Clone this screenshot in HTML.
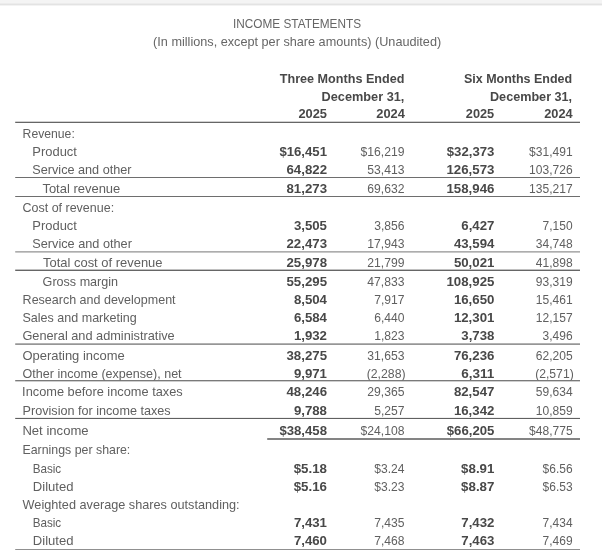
<!DOCTYPE html>
<html lang="en"><head><meta charset="utf-8"><title>Income Statements</title>
<style>html,body{margin:0;padding:0;background:#fff;overflow:hidden}body{width:602px;height:560px}</style>
</head><body>
<svg width="602" height="560" viewBox="0 0 602 560" font-family='"Liberation Sans", sans-serif' style="display:block;filter:blur(0.3px)">
<rect x="0" y="0" width="602" height="4" fill="#f4f4f4"/>
<rect x="0" y="3.5" width="602" height="1.5" fill="#e3e3e3"/>
<rect x="0" y="5" width="602" height="1" fill="#f3f3f3"/>
<text x="233.0" y="28.0" font-size="13" fill="#666" textLength="128.1" lengthAdjust="spacingAndGlyphs">INCOME STATEMENTS</text>
<text x="153.1" y="46.3" font-size="13" fill="#666" textLength="288.1" lengthAdjust="spacingAndGlyphs">(In millions, except per share amounts) (Unaudited)</text>
<text x="404.4" y="83.3" font-size="13.2" fill="#484848" text-anchor="end" font-weight="bold" textLength="124.6" lengthAdjust="spacingAndGlyphs">Three Months Ended</text>
<text x="404.4" y="100.7" font-size="13.2" fill="#484848" text-anchor="end" font-weight="bold" textLength="82.8" lengthAdjust="spacingAndGlyphs">December 31,</text>
<text x="327.0" y="118.2" font-size="13.2" fill="#484848" text-anchor="end" font-weight="bold" textLength="28.6" lengthAdjust="spacingAndGlyphs">2025</text>
<text x="404.9" y="118.2" font-size="13.2" fill="#484848" text-anchor="end" font-weight="bold" textLength="28.6" lengthAdjust="spacingAndGlyphs">2024</text>
<text x="572.1" y="83.3" font-size="13.2" fill="#484848" text-anchor="end" font-weight="bold" textLength="108.1" lengthAdjust="spacingAndGlyphs">Six Months Ended</text>
<text x="572.1" y="100.7" font-size="13.2" fill="#484848" text-anchor="end" font-weight="bold" textLength="82.1" lengthAdjust="spacingAndGlyphs">December 31,</text>
<text x="494.2" y="118.2" font-size="13.2" fill="#484848" text-anchor="end" font-weight="bold" textLength="28.4" lengthAdjust="spacingAndGlyphs">2025</text>
<text x="572.6" y="118.2" font-size="13.2" fill="#484848" text-anchor="end" font-weight="bold" textLength="28.4" lengthAdjust="spacingAndGlyphs">2024</text>
<text x="22.6" y="137.8" font-size="13.0" fill="#606060" textLength="52.2" lengthAdjust="spacingAndGlyphs">Revenue:</text>
<text x="32.3" y="155.8" font-size="13.0" fill="#606060" textLength="44.6" lengthAdjust="spacingAndGlyphs">Product</text>
<text x="327.0" y="155.8" font-size="13.2" fill="#484848" text-anchor="end" font-weight="bold" textLength="47.6" lengthAdjust="spacingAndGlyphs">$16,451</text>
<text x="404.5" y="155.8" font-size="13.2" fill="#606060" text-anchor="end" textLength="44.0" lengthAdjust="spacingAndGlyphs">$16,219</text>
<text x="494.4" y="155.8" font-size="13.2" fill="#484848" text-anchor="end" font-weight="bold" textLength="47.6" lengthAdjust="spacingAndGlyphs">$32,373</text>
<text x="572.6" y="155.8" font-size="13.2" fill="#606060" text-anchor="end" textLength="43.5" lengthAdjust="spacingAndGlyphs">$31,491</text>
<text x="32.3" y="173.9" font-size="13.0" fill="#606060" textLength="99.2" lengthAdjust="spacingAndGlyphs">Service and other</text>
<text x="327.0" y="173.9" font-size="13.2" fill="#484848" text-anchor="end" font-weight="bold" textLength="40.5" lengthAdjust="spacingAndGlyphs">64,822</text>
<text x="404.5" y="173.9" font-size="13.2" fill="#606060" text-anchor="end" textLength="37.2" lengthAdjust="spacingAndGlyphs">53,413</text>
<text x="494.4" y="173.9" font-size="13.2" fill="#484848" text-anchor="end" font-weight="bold" textLength="47.9" lengthAdjust="spacingAndGlyphs">126,573</text>
<text x="572.6" y="173.9" font-size="13.2" fill="#606060" text-anchor="end" textLength="43.5" lengthAdjust="spacingAndGlyphs">103,726</text>
<text x="42.4" y="192.6" font-size="13.0" fill="#606060" textLength="77.9" lengthAdjust="spacingAndGlyphs">Total revenue</text>
<text x="327.0" y="192.6" font-size="13.2" fill="#484848" text-anchor="end" font-weight="bold" textLength="40.5" lengthAdjust="spacingAndGlyphs">81,273</text>
<text x="404.5" y="192.6" font-size="13.2" fill="#606060" text-anchor="end" textLength="37.2" lengthAdjust="spacingAndGlyphs">69,632</text>
<text x="494.4" y="192.6" font-size="13.2" fill="#484848" text-anchor="end" font-weight="bold" textLength="47.9" lengthAdjust="spacingAndGlyphs">158,946</text>
<text x="572.6" y="192.6" font-size="13.2" fill="#606060" text-anchor="end" textLength="43.5" lengthAdjust="spacingAndGlyphs">135,217</text>
<text x="22.5" y="211.6" font-size="13.0" fill="#606060" textLength="91.6" lengthAdjust="spacingAndGlyphs">Cost of revenue:</text>
<text x="32.3" y="229.8" font-size="13.0" fill="#606060" textLength="44.6" lengthAdjust="spacingAndGlyphs">Product</text>
<text x="327.0" y="229.8" font-size="13.2" fill="#484848" text-anchor="end" font-weight="bold" textLength="33.1" lengthAdjust="spacingAndGlyphs">3,505</text>
<text x="404.5" y="229.8" font-size="13.2" fill="#606060" text-anchor="end" textLength="30.3" lengthAdjust="spacingAndGlyphs">3,856</text>
<text x="494.4" y="229.8" font-size="13.2" fill="#484848" text-anchor="end" font-weight="bold" textLength="33.1" lengthAdjust="spacingAndGlyphs">6,427</text>
<text x="572.6" y="229.8" font-size="13.2" fill="#606060" text-anchor="end" textLength="30.0" lengthAdjust="spacingAndGlyphs">7,150</text>
<text x="32.3" y="247.9" font-size="13.0" fill="#606060" textLength="99.6" lengthAdjust="spacingAndGlyphs">Service and other</text>
<text x="327.0" y="247.9" font-size="13.2" fill="#484848" text-anchor="end" font-weight="bold" textLength="40.5" lengthAdjust="spacingAndGlyphs">22,473</text>
<text x="404.5" y="247.9" font-size="13.2" fill="#606060" text-anchor="end" textLength="37.2" lengthAdjust="spacingAndGlyphs">17,943</text>
<text x="494.4" y="247.9" font-size="13.2" fill="#484848" text-anchor="end" font-weight="bold" textLength="40.5" lengthAdjust="spacingAndGlyphs">43,594</text>
<text x="572.6" y="247.9" font-size="13.2" fill="#606060" text-anchor="end" textLength="36.8" lengthAdjust="spacingAndGlyphs">34,748</text>
<text x="43.0" y="266.5" font-size="13.0" fill="#606060" textLength="119.5" lengthAdjust="spacingAndGlyphs">Total cost of revenue</text>
<text x="327.0" y="266.5" font-size="13.2" fill="#484848" text-anchor="end" font-weight="bold" textLength="40.5" lengthAdjust="spacingAndGlyphs">25,978</text>
<text x="404.5" y="266.5" font-size="13.2" fill="#606060" text-anchor="end" textLength="37.2" lengthAdjust="spacingAndGlyphs">21,799</text>
<text x="494.4" y="266.5" font-size="13.2" fill="#484848" text-anchor="end" font-weight="bold" textLength="40.5" lengthAdjust="spacingAndGlyphs">50,021</text>
<text x="572.6" y="266.5" font-size="13.2" fill="#606060" text-anchor="end" textLength="36.8" lengthAdjust="spacingAndGlyphs">41,898</text>
<text x="42.6" y="285.6" font-size="13.0" fill="#606060" textLength="75.5" lengthAdjust="spacingAndGlyphs">Gross margin</text>
<text x="327.0" y="285.6" font-size="13.2" fill="#484848" text-anchor="end" font-weight="bold" textLength="40.5" lengthAdjust="spacingAndGlyphs">55,295</text>
<text x="404.5" y="285.6" font-size="13.2" fill="#606060" text-anchor="end" textLength="37.2" lengthAdjust="spacingAndGlyphs">47,833</text>
<text x="494.4" y="285.6" font-size="13.2" fill="#484848" text-anchor="end" font-weight="bold" textLength="47.9" lengthAdjust="spacingAndGlyphs">108,925</text>
<text x="572.6" y="285.6" font-size="13.2" fill="#606060" text-anchor="end" textLength="36.8" lengthAdjust="spacingAndGlyphs">93,319</text>
<text x="22.6" y="304.2" font-size="13.0" fill="#606060" textLength="153.0" lengthAdjust="spacingAndGlyphs">Research and development</text>
<text x="327.0" y="304.2" font-size="13.2" fill="#484848" text-anchor="end" font-weight="bold" textLength="33.1" lengthAdjust="spacingAndGlyphs">8,504</text>
<text x="404.5" y="304.2" font-size="13.2" fill="#606060" text-anchor="end" textLength="30.3" lengthAdjust="spacingAndGlyphs">7,917</text>
<text x="494.4" y="304.2" font-size="13.2" fill="#484848" text-anchor="end" font-weight="bold" textLength="40.5" lengthAdjust="spacingAndGlyphs">16,650</text>
<text x="572.6" y="304.2" font-size="13.2" fill="#606060" text-anchor="end" textLength="36.8" lengthAdjust="spacingAndGlyphs">15,461</text>
<text x="22.5" y="321.7" font-size="13.0" fill="#606060" textLength="114.2" lengthAdjust="spacingAndGlyphs">Sales and marketing</text>
<text x="327.0" y="321.7" font-size="13.2" fill="#484848" text-anchor="end" font-weight="bold" textLength="33.1" lengthAdjust="spacingAndGlyphs">6,584</text>
<text x="404.5" y="321.7" font-size="13.2" fill="#606060" text-anchor="end" textLength="30.3" lengthAdjust="spacingAndGlyphs">6,440</text>
<text x="494.4" y="321.7" font-size="13.2" fill="#484848" text-anchor="end" font-weight="bold" textLength="40.5" lengthAdjust="spacingAndGlyphs">12,301</text>
<text x="572.6" y="321.7" font-size="13.2" fill="#606060" text-anchor="end" textLength="36.8" lengthAdjust="spacingAndGlyphs">12,157</text>
<text x="22.4" y="340.2" font-size="13.0" fill="#606060" textLength="152.3" lengthAdjust="spacingAndGlyphs">General and administrative</text>
<text x="327.0" y="340.2" font-size="13.2" fill="#484848" text-anchor="end" font-weight="bold" textLength="33.1" lengthAdjust="spacingAndGlyphs">1,932</text>
<text x="404.5" y="340.2" font-size="13.2" fill="#606060" text-anchor="end" textLength="30.3" lengthAdjust="spacingAndGlyphs">1,823</text>
<text x="494.4" y="340.2" font-size="13.2" fill="#484848" text-anchor="end" font-weight="bold" textLength="33.1" lengthAdjust="spacingAndGlyphs">3,738</text>
<text x="572.6" y="340.2" font-size="13.2" fill="#606060" text-anchor="end" textLength="30.0" lengthAdjust="spacingAndGlyphs">3,496</text>
<text x="22.4" y="359.6" font-size="13.0" fill="#606060" textLength="102.3" lengthAdjust="spacingAndGlyphs">Operating income</text>
<text x="327.0" y="359.6" font-size="13.2" fill="#484848" text-anchor="end" font-weight="bold" textLength="40.5" lengthAdjust="spacingAndGlyphs">38,275</text>
<text x="404.5" y="359.6" font-size="13.2" fill="#606060" text-anchor="end" textLength="37.2" lengthAdjust="spacingAndGlyphs">31,653</text>
<text x="494.4" y="359.6" font-size="13.2" fill="#484848" text-anchor="end" font-weight="bold" textLength="40.5" lengthAdjust="spacingAndGlyphs">76,236</text>
<text x="572.6" y="359.6" font-size="13.2" fill="#606060" text-anchor="end" textLength="36.8" lengthAdjust="spacingAndGlyphs">62,205</text>
<text x="22.6" y="377.9" font-size="13.0" fill="#606060" textLength="159.0" lengthAdjust="spacingAndGlyphs">Other income (expense), net</text>
<text x="327.0" y="377.9" font-size="13.2" fill="#484848" text-anchor="end" font-weight="bold" textLength="33.1" lengthAdjust="spacingAndGlyphs">9,971</text>
<text x="405.6" y="377.9" font-size="13.2" fill="#606060" text-anchor="end" textLength="38.9" lengthAdjust="spacingAndGlyphs">(2,288)</text>
<text x="494.4" y="377.9" font-size="13.2" fill="#484848" text-anchor="end" font-weight="bold" textLength="33.1" lengthAdjust="spacingAndGlyphs">6,311</text>
<text x="573.7" y="377.9" font-size="13.2" fill="#606060" text-anchor="end" textLength="38.5" lengthAdjust="spacingAndGlyphs">(2,571)</text>
<text x="22.1" y="396.4" font-size="13.0" fill="#606060" textLength="160.6" lengthAdjust="spacingAndGlyphs">Income before income taxes</text>
<text x="327.0" y="396.4" font-size="13.2" fill="#484848" text-anchor="end" font-weight="bold" textLength="40.5" lengthAdjust="spacingAndGlyphs">48,246</text>
<text x="404.5" y="396.4" font-size="13.2" fill="#606060" text-anchor="end" textLength="37.2" lengthAdjust="spacingAndGlyphs">29,365</text>
<text x="494.4" y="396.4" font-size="13.2" fill="#484848" text-anchor="end" font-weight="bold" textLength="40.5" lengthAdjust="spacingAndGlyphs">82,547</text>
<text x="572.6" y="396.4" font-size="13.2" fill="#606060" text-anchor="end" textLength="36.8" lengthAdjust="spacingAndGlyphs">59,634</text>
<text x="22.6" y="414.5" font-size="13.0" fill="#606060" textLength="148.0" lengthAdjust="spacingAndGlyphs">Provision for income taxes</text>
<text x="327.0" y="414.5" font-size="13.2" fill="#484848" text-anchor="end" font-weight="bold" textLength="33.1" lengthAdjust="spacingAndGlyphs">9,788</text>
<text x="404.5" y="414.5" font-size="13.2" fill="#606060" text-anchor="end" textLength="30.3" lengthAdjust="spacingAndGlyphs">5,257</text>
<text x="494.4" y="414.5" font-size="13.2" fill="#484848" text-anchor="end" font-weight="bold" textLength="40.5" lengthAdjust="spacingAndGlyphs">16,342</text>
<text x="572.6" y="414.5" font-size="13.2" fill="#606060" text-anchor="end" textLength="36.8" lengthAdjust="spacingAndGlyphs">10,859</text>
<text x="22.4" y="435.2" font-size="13.0" fill="#606060" textLength="66.2" lengthAdjust="spacingAndGlyphs">Net income</text>
<text x="327.0" y="435.2" font-size="13.2" fill="#484848" text-anchor="end" font-weight="bold" textLength="47.6" lengthAdjust="spacingAndGlyphs">$38,458</text>
<text x="404.5" y="435.2" font-size="13.2" fill="#606060" text-anchor="end" textLength="44.0" lengthAdjust="spacingAndGlyphs">$24,108</text>
<text x="494.4" y="435.2" font-size="13.2" fill="#484848" text-anchor="end" font-weight="bold" textLength="47.6" lengthAdjust="spacingAndGlyphs">$66,205</text>
<text x="572.6" y="435.2" font-size="13.2" fill="#606060" text-anchor="end" textLength="43.5" lengthAdjust="spacingAndGlyphs">$48,775</text>
<text x="22.5" y="453.5" font-size="13.0" fill="#606060" textLength="107.8" lengthAdjust="spacingAndGlyphs">Earnings per share:</text>
<text x="32.7" y="472.6" font-size="13.0" fill="#606060" textLength="28.5" lengthAdjust="spacingAndGlyphs">Basic</text>
<text x="327.0" y="472.6" font-size="13.2" fill="#484848" text-anchor="end" font-weight="bold" textLength="33.3" lengthAdjust="spacingAndGlyphs">$5.18</text>
<text x="404.5" y="472.6" font-size="13.2" fill="#606060" text-anchor="end" textLength="30.2" lengthAdjust="spacingAndGlyphs">$3.24</text>
<text x="494.4" y="472.6" font-size="13.2" fill="#484848" text-anchor="end" font-weight="bold" textLength="33.3" lengthAdjust="spacingAndGlyphs">$8.91</text>
<text x="572.6" y="472.6" font-size="13.2" fill="#606060" text-anchor="end" textLength="30.0" lengthAdjust="spacingAndGlyphs">$6.56</text>
<text x="32.8" y="490.7" font-size="13.0" fill="#606060" textLength="40.7" lengthAdjust="spacingAndGlyphs">Diluted</text>
<text x="327.0" y="490.7" font-size="13.2" fill="#484848" text-anchor="end" font-weight="bold" textLength="33.3" lengthAdjust="spacingAndGlyphs">$5.16</text>
<text x="404.5" y="490.7" font-size="13.2" fill="#606060" text-anchor="end" textLength="30.2" lengthAdjust="spacingAndGlyphs">$3.23</text>
<text x="494.4" y="490.7" font-size="13.2" fill="#484848" text-anchor="end" font-weight="bold" textLength="33.3" lengthAdjust="spacingAndGlyphs">$8.87</text>
<text x="572.6" y="490.7" font-size="13.2" fill="#606060" text-anchor="end" textLength="30.0" lengthAdjust="spacingAndGlyphs">$6.53</text>
<text x="22.6" y="508.5" font-size="13.0" fill="#606060" textLength="217.0" lengthAdjust="spacingAndGlyphs">Weighted average shares outstanding:</text>
<text x="32.7" y="526.9" font-size="13.0" fill="#606060" textLength="28.5" lengthAdjust="spacingAndGlyphs">Basic</text>
<text x="327.0" y="526.9" font-size="13.2" fill="#484848" text-anchor="end" font-weight="bold" textLength="33.1" lengthAdjust="spacingAndGlyphs">7,431</text>
<text x="404.5" y="526.9" font-size="13.2" fill="#606060" text-anchor="end" textLength="30.3" lengthAdjust="spacingAndGlyphs">7,435</text>
<text x="494.4" y="526.9" font-size="13.2" fill="#484848" text-anchor="end" font-weight="bold" textLength="33.1" lengthAdjust="spacingAndGlyphs">7,432</text>
<text x="572.6" y="526.9" font-size="13.2" fill="#606060" text-anchor="end" textLength="30.0" lengthAdjust="spacingAndGlyphs">7,434</text>
<text x="32.8" y="544.8" font-size="13.0" fill="#606060" textLength="40.7" lengthAdjust="spacingAndGlyphs">Diluted</text>
<text x="327.0" y="544.8" font-size="13.2" fill="#484848" text-anchor="end" font-weight="bold" textLength="33.1" lengthAdjust="spacingAndGlyphs">7,460</text>
<text x="404.5" y="544.8" font-size="13.2" fill="#606060" text-anchor="end" textLength="30.3" lengthAdjust="spacingAndGlyphs">7,468</text>
<text x="494.4" y="544.8" font-size="13.2" fill="#484848" text-anchor="end" font-weight="bold" textLength="33.1" lengthAdjust="spacingAndGlyphs">7,463</text>
<text x="572.6" y="544.8" font-size="13.2" fill="#606060" text-anchor="end" textLength="30.0" lengthAdjust="spacingAndGlyphs">7,469</text>
<rect x="15.2" y="121.7" width="564.8" height="1.3" fill="#666"/>
<rect x="15.2" y="177" width="564.8" height="1" fill="#6e6e6e"/>
<rect x="15.2" y="196" width="564.8" height="1" fill="#6e6e6e"/>
<rect x="15.2" y="251.4" width="564.8" height="1" fill="#777"/>
<rect x="15.2" y="269.65" width="564.8" height="1.2" fill="#4c4c4c"/>
<rect x="15.2" y="343.45" width="564.8" height="1.3" fill="#747474"/>
<rect x="15.2" y="380.05" width="564.8" height="1.3" fill="#747474"/>
<rect x="15.2" y="417.9" width="564.8" height="1.1" fill="#606060"/>
<rect x="267.2" y="438.3" width="312.8" height="1.4" fill="#505050"/>
<rect x="15.2" y="549.0" width="564.8" height="1" fill="#909090"/>
</svg>
</body></html>
